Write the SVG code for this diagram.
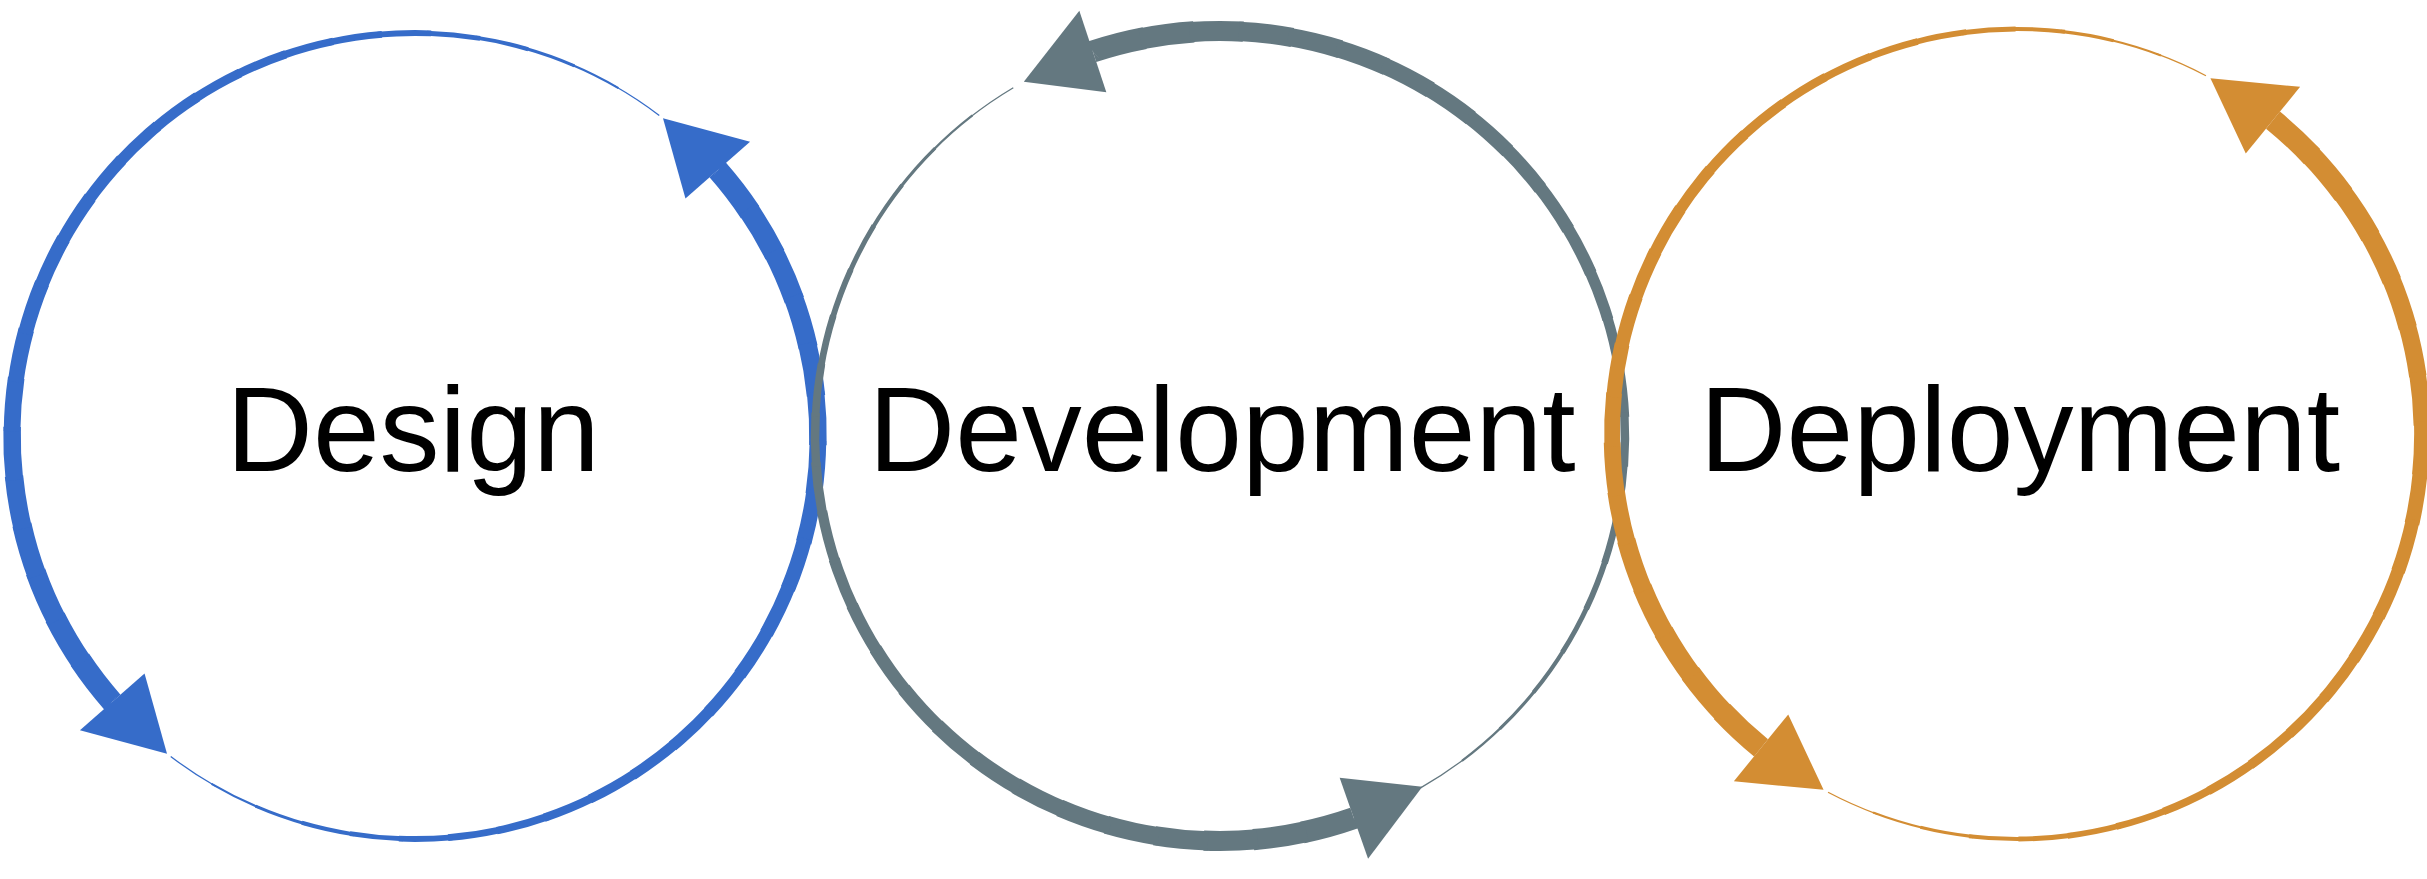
<svg xmlns="http://www.w3.org/2000/svg" width="2427" height="879" viewBox="0 0 2427 879">
<style>
.s{fill:none;stroke-dasharray:7.6 352.4}
.blue{stroke:#366cc9;fill:#366cc9}
.gray{stroke:#647880;fill:#647880}
.orange{stroke:#d38d33;fill:#d38d33}
text{font-family:"Liberation Sans",Arial,sans-serif;font-size:120px;fill:#000;text-anchor:middle}
</style>
<defs>
<circle id="c1" class="s" cx="415" cy="436" r="403" pathLength="360"/>
<circle id="c2" class="s" cx="1220" cy="436" r="405" pathLength="360"/>
<circle id="c3" class="s" cx="2017" cy="434" r="405" pathLength="360"/>
<g id="t1">
<use href="#c1" stroke-width="22" stroke-dashoffset="0"/>
<use href="#c1" stroke-width="21.1" stroke-dashoffset="-7"/>
<use href="#c1" stroke-width="20.2" stroke-dashoffset="-14"/>
<use href="#c1" stroke-width="19.3" stroke-dashoffset="-21"/>
<use href="#c1" stroke-width="18.4" stroke-dashoffset="-28"/>
<use href="#c1" stroke-width="17.5" stroke-dashoffset="-35"/>
<use href="#c1" stroke-width="16.6" stroke-dashoffset="-42"/>
<use href="#c1" stroke-width="15.7" stroke-dashoffset="-49"/>
<use href="#c1" stroke-width="14.8" stroke-dashoffset="-56"/>
<use href="#c1" stroke-width="13.9" stroke-dashoffset="-63"/>
<use href="#c1" stroke-width="13" stroke-dashoffset="-70"/>
<use href="#c1" stroke-width="12.1" stroke-dashoffset="-77"/>
<use href="#c1" stroke-width="11.2" stroke-dashoffset="-84"/>
<use href="#c1" stroke-width="10.3" stroke-dashoffset="-91"/>
<use href="#c1" stroke-width="9.4" stroke-dashoffset="-98"/>
<use href="#c1" stroke-width="8.5" stroke-dashoffset="-105"/>
<use href="#c1" stroke-width="7.6" stroke-dashoffset="-112"/>
<use href="#c1" stroke-width="6.7" stroke-dashoffset="-119"/>
<use href="#c1" stroke-width="5.8" stroke-dashoffset="-126"/>
<use href="#c1" stroke-width="4.9" stroke-dashoffset="-133"/>
<use href="#c1" stroke-width="4" stroke-dashoffset="-140"/>
<use href="#c1" stroke-width="3.1" stroke-dashoffset="-147"/>
<use href="#c1" stroke-width="2.2" stroke-dashoffset="-154"/>
<use href="#c1" stroke-width="1.3" stroke-dashoffset="-161"/>
<polygon stroke="none" points="775,436 861,436 811,361"/>
</g>
<g id="t2">
<use href="#c2" stroke-width="22" stroke-dashoffset="0"/>
<use href="#c2" stroke-width="21.1" stroke-dashoffset="-7"/>
<use href="#c2" stroke-width="20.2" stroke-dashoffset="-14"/>
<use href="#c2" stroke-width="19.3" stroke-dashoffset="-21"/>
<use href="#c2" stroke-width="18.4" stroke-dashoffset="-28"/>
<use href="#c2" stroke-width="17.5" stroke-dashoffset="-35"/>
<use href="#c2" stroke-width="16.6" stroke-dashoffset="-42"/>
<use href="#c2" stroke-width="15.7" stroke-dashoffset="-49"/>
<use href="#c2" stroke-width="14.8" stroke-dashoffset="-56"/>
<use href="#c2" stroke-width="13.9" stroke-dashoffset="-63"/>
<use href="#c2" stroke-width="13" stroke-dashoffset="-70"/>
<use href="#c2" stroke-width="12.1" stroke-dashoffset="-77"/>
<use href="#c2" stroke-width="11.2" stroke-dashoffset="-84"/>
<use href="#c2" stroke-width="10.3" stroke-dashoffset="-91"/>
<use href="#c2" stroke-width="9.4" stroke-dashoffset="-98"/>
<use href="#c2" stroke-width="8.5" stroke-dashoffset="-105"/>
<use href="#c2" stroke-width="7.6" stroke-dashoffset="-112"/>
<use href="#c2" stroke-width="6.7" stroke-dashoffset="-119"/>
<use href="#c2" stroke-width="5.8" stroke-dashoffset="-126"/>
<use href="#c2" stroke-width="4.9" stroke-dashoffset="-133"/>
<use href="#c2" stroke-width="4" stroke-dashoffset="-140"/>
<use href="#c2" stroke-width="3.1" stroke-dashoffset="-147"/>
<use href="#c2" stroke-width="2.2" stroke-dashoffset="-154"/>
<use href="#c2" stroke-width="1.3" stroke-dashoffset="-161"/>
<polygon stroke="none" points="1582,436 1668,436 1618,361"/>
</g>
<g id="t3">
<use href="#c3" stroke-width="22" stroke-dashoffset="0"/>
<use href="#c3" stroke-width="21.1" stroke-dashoffset="-7"/>
<use href="#c3" stroke-width="20.2" stroke-dashoffset="-14"/>
<use href="#c3" stroke-width="19.3" stroke-dashoffset="-21"/>
<use href="#c3" stroke-width="18.4" stroke-dashoffset="-28"/>
<use href="#c3" stroke-width="17.5" stroke-dashoffset="-35"/>
<use href="#c3" stroke-width="16.6" stroke-dashoffset="-42"/>
<use href="#c3" stroke-width="15.7" stroke-dashoffset="-49"/>
<use href="#c3" stroke-width="14.8" stroke-dashoffset="-56"/>
<use href="#c3" stroke-width="13.9" stroke-dashoffset="-63"/>
<use href="#c3" stroke-width="13" stroke-dashoffset="-70"/>
<use href="#c3" stroke-width="12.1" stroke-dashoffset="-77"/>
<use href="#c3" stroke-width="11.2" stroke-dashoffset="-84"/>
<use href="#c3" stroke-width="10.3" stroke-dashoffset="-91"/>
<use href="#c3" stroke-width="9.4" stroke-dashoffset="-98"/>
<use href="#c3" stroke-width="8.5" stroke-dashoffset="-105"/>
<use href="#c3" stroke-width="7.6" stroke-dashoffset="-112"/>
<use href="#c3" stroke-width="6.7" stroke-dashoffset="-119"/>
<use href="#c3" stroke-width="5.8" stroke-dashoffset="-126"/>
<use href="#c3" stroke-width="4.9" stroke-dashoffset="-133"/>
<use href="#c3" stroke-width="4" stroke-dashoffset="-140"/>
<use href="#c3" stroke-width="3.1" stroke-dashoffset="-147"/>
<use href="#c3" stroke-width="2.2" stroke-dashoffset="-154"/>
<use href="#c3" stroke-width="1.3" stroke-dashoffset="-161"/>
<polygon stroke="none" points="2379,434 2465,434 2415,359"/>
</g>
</defs>
<rect width="2427" height="879" fill="#fff"/>
<g id="connectors">
<g class="blue">
<use href="#t1" transform="rotate(-41.3 415 436)"/>
<use href="#t1" transform="rotate(138.7 415 436)"/>
</g>
<g class="gray">
<use href="#t2" transform="rotate(-108.3 1220 436)"/>
<use href="#t2" transform="rotate(70.7 1220 436)"/>
</g>
<g class="orange">
<use href="#t3" transform="rotate(-50.8 2017 434)"/>
<use href="#t3" transform="rotate(129.2 2017 434)"/>
</g>
</g>
<g id="design"><text x="413" y="471">Design</text></g>
<g id="development"><text x="1222" y="471">Development</text></g>
<g id="deployment"><text x="2020" y="471">Deployment</text></g>
</svg>
